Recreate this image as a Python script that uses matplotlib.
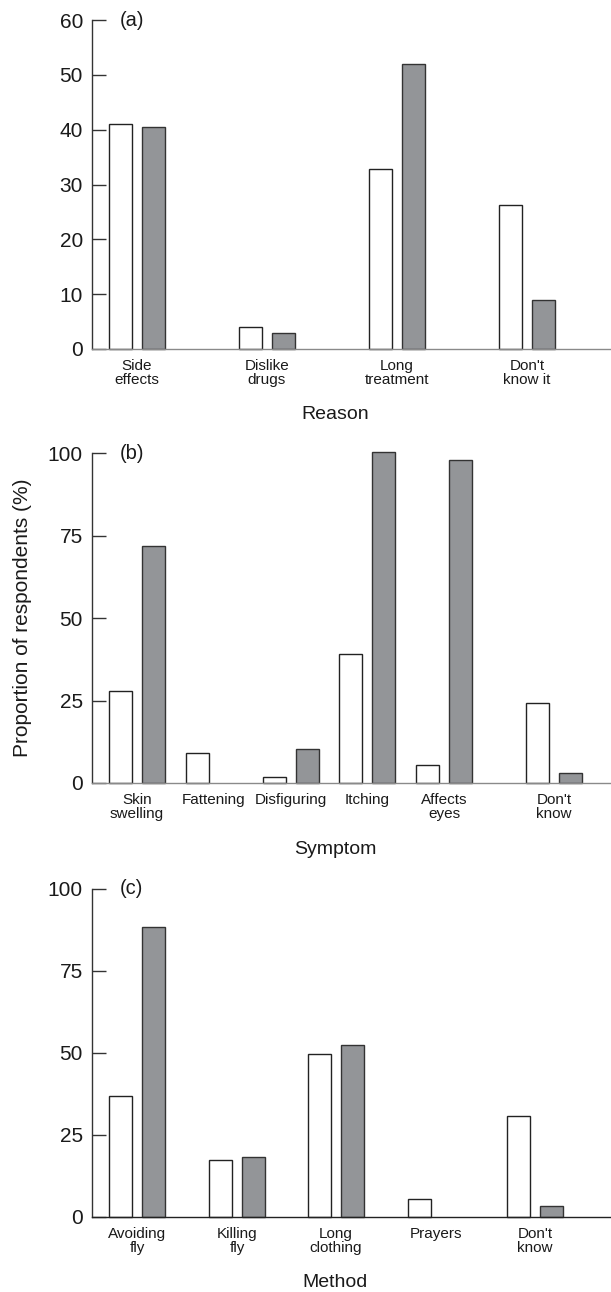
import matplotlib
matplotlib.use("Agg")
import matplotlib.pyplot as plt

plt.rcParams['font.family'] = ['Liberation Sans', 'DejaVu Sans']

# (a) reasons
reasons = ['Side\neffects', 'Dislike\ndrugs', 'Long\ntreatment', "Don't\nknow it"]
reason_white = [41.1, 4.1, 32.8, 26.2]
reason_grey = [40.4, 2.9, 51.9, 8.9]

# (b) symptoms
symptoms = ['Skin\nswelling', 'Fattening', 'Disfiguring', 'Itching', 'Affects\neyes', "Don't\nknow"]
symptom_white = [28.0, 9.0, 1.7, 39.0, 5.5, 24.2]
symptom_grey = [71.9, 0.0, 10.4, 100.4, 97.8, 3.1]

# (c) methods
methods = ['Avoiding\nfly', 'Killing\nfly', 'Long\nclothing', 'Prayers', "Don't\nknow"]
method_white = [37.0, 17.3, 49.7, 5.4, 30.7]
method_grey = [88.4, 18.3, 52.4, 0.0, 3.4]

# layout (x in pixel-like units across the figure width)
centers_a = [137, 267, 397, 527]
centers_b = [137, 214, 291, 367, 444, 554]
centers_c = [137, 237, 336, 436, 535]
bar_w = 23.5
off = 16.3
grey = '#939598'

fig = plt.figure(figsize=(6.11, 12.92), dpi=100)
H = 1292.0
W = 611.0


def make_ax(top, bottom):
    return fig.add_axes([92 / W, 1 - bottom / H, (W - 92) / W, (bottom - top) / H])


def panel(ax, centers, names, white, gry, ymax, yticks, letter, xlabel, base_color):
    xw = [c - off for c in centers]
    xg = [c + off for c in centers]
    ax.bar(xw, white, width=bar_w, color='white', edgecolor='#222222', linewidth=1.0, clip_on=False, zorder=2)
    for x, v in zip(xg, gry):
        if v > 0:
            ax.bar(x, v, width=bar_w, color=grey, edgecolor='#333333', linewidth=1.0, clip_on=False, zorder=2)
    ax.set_xlim(92, W)
    ax.set_ylim(0, ymax)
    ax.set_yticks(yticks)
    ax.set_xticks(centers, names)
    for s in ['top', 'right']:
        ax.spines[s].set_visible(False)
    ax.spines['left'].set_color('#333333')
    ax.spines['left'].set_linewidth(1.0)
    ax.spines['bottom'].set_color(base_color)
    ax.spines['bottom'].set_linewidth(1.0)
    ax.spines['bottom'].set_zorder(3)
    ax.tick_params(axis='y', direction='in', length=10, width=1.0, color='#333333',
                   labelsize=15, pad=6.5, labelcolor='#1a1a1a')
    ax.tick_params(axis='x', length=0, labelsize=11, pad=7, labelcolor='#1a1a1a')
    for t in ax.get_xticklabels():
        t.set_linespacing(1.0)
    ax.text(0.054, 1.0, letter, transform=ax.transAxes, fontsize=14.5, va='center', ha='left',
            color='#1a1a1a')
    ax.set_xlabel(xlabel, fontsize=14, color='#1a1a1a')
    ax.xaxis.set_label_coords(0.468, -0.2)
    ax.xaxis.label.set_va('center')


ax_a = make_ax(20, 349)
panel(ax_a, centers_a, reasons, reason_white, reason_grey, 60, [0, 10, 20, 30, 40, 50, 60],
      '(a)', 'Reason', '#8a8a8a')

ax_b = make_ax(453, 783)
panel(ax_b, centers_b, symptoms, symptom_white, symptom_grey, 100, [0, 25, 50, 75, 100],
      '(b)', 'Symptom', '#8a8a8a')
ax_b.set_ylabel('Proportion of respondents (%)', fontsize=15, color='#1a1a1a')
ax_b.yaxis.set_label_coords(-0.116, 0.5)

ax_c = make_ax(889, 1217)
panel(ax_c, centers_c, methods, method_white, method_grey, 100, [0, 25, 50, 75, 100],
      '(c)', 'Method', '#222222')

fig.savefig('out.png', dpi=100)
